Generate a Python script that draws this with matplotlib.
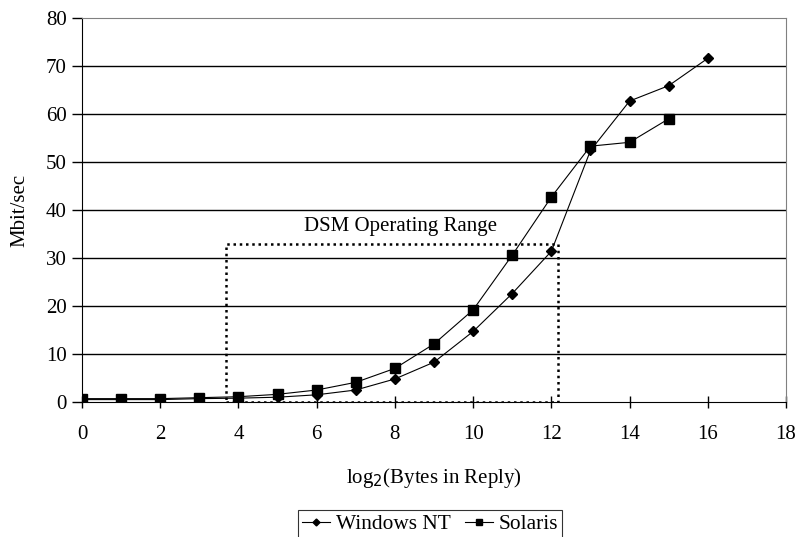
import matplotlib.pyplot as plt
from matplotlib.patches import Rectangle

plt.rcParams['font.family'] = ['Liberation Serif', 'DejaVu Serif']

# data
x_nt = [0, 1, 2, 3, 4, 5, 6, 7, 8, 9, 10, 11, 12, 13, 14, 15, 16]
nt = [0.5, 0.5, 0.5, 0.7, 0.8, 1.0, 1.5, 2.5, 4.8, 8.3, 14.7, 22.6, 31.4, 52.4, 62.7, 65.9, 71.6]
x_sol = [0, 1, 2, 3, 4, 5, 6, 7, 8, 9, 10, 11, 12, 13, 14, 15]
sol = [0.7, 0.7, 0.7, 0.9, 1.1, 1.6, 2.5, 4.1, 7.0, 12.1, 19.2, 30.6, 42.7, 53.3, 54.1, 59.0]

xticks = list(range(0, 19, 2))
yticks = list(range(0, 81, 10))
range_lo, range_hi, range_top = 3.68, 12.17, 32.9

fig = plt.figure(figsize=(7.98, 5.37), dpi=100)
ax = fig.add_axes([0.1028, 0.2514, 0.8822, 0.7151])

for y in yticks[1:-1]:
    ax.axhline(y, color='black', lw=1.0, zorder=1)

ax.plot(x_nt, nt, color='black', lw=0.8, marker='D', markersize=5,
        label='Windows NT', zorder=3)
ax.plot(x_sol, sol, color='black', lw=0.8, marker='s', markersize=6.5,
        label='Solaris', zorder=3)

# dotted box marking the operating range
ax.add_patch(Rectangle((range_lo, 0), range_hi - range_lo, range_top, fill=False,
                       ls=(0, (1, 1.5)), lw=1.8, ec='black', zorder=2))
ax.text(8.13, 36.5, 'DSM Operating Range', ha='center', va='center', fontsize=15)

ax.set_xlim(0, 18)
ax.set_ylim(0, 80)
ax.set_xticks(xticks)
ax.set_yticks(yticks)
ax.tick_params(axis='x', direction='inout', length=9, width=1, labelsize=15, pad=12)
ax.tick_params(axis='y', direction='out', length=7, width=1, labelsize=15, pad=4)

for s in ['top', 'right']:
    ax.spines[s].set_color('#808080')
for s in ['left', 'bottom']:
    ax.spines[s].set_color('black')

ax.set_ylabel('Mbit/sec', fontsize=15, labelpad=12)
ax.set_xlabel('log$_2$(Bytes in Reply)', fontsize=15, labelpad=16)

leg = fig.legend(loc='center', bbox_to_anchor=(0.539, 0.024), ncol=2, fontsize=15.4,
                 frameon=True, fancybox=False, edgecolor='black', handlelength=1.3,
                 handletextpad=0.25, columnspacing=0.7, borderpad=0.2,
                 borderaxespad=0.2, markerscale=0.7)
leg.get_frame().set_linewidth(0.8)

fig.savefig('out.png', dpi=100)
